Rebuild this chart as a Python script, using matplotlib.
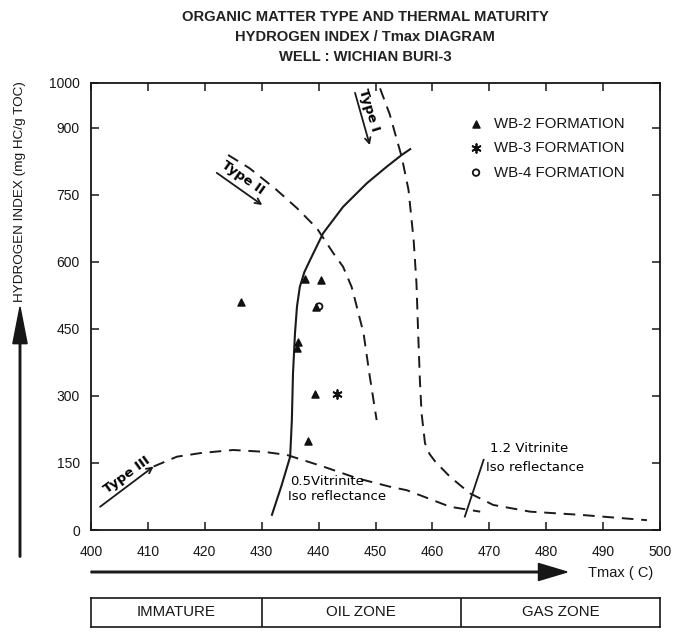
import matplotlib
matplotlib.use("Agg")
import matplotlib.pyplot as plt
from matplotlib.patches import FancyArrow

plt.rcParams['font.family'] = ['Liberation Sans', 'DejaVu Sans']

# ---------------- data ----------------
title_lines = ["ORGANIC MATTER TYPE AND THERMAL MATURITY",
               "HYDROGEN INDEX / Tmax DIAGRAM",
               "WELL : WICHIAN BURI-3"]

x_ticks = [400, 410, 420, 430, 440, 450, 460, 470, 480, 490, 500]
y_ticks = [0, 150, 300, 450, 600, 750, 900, 1000]

wb2_tmax = [426.4, 437.6, 440.5, 439.5, 436.3, 436.2, 439.4, 438.2]
wb2_hi = [510, 561, 559, 499, 421, 407, 304, 198]
wb3_tmax = [443.3]
wb3_hi = [304]
wb4_tmax = [440.1]
wb4_hi = [500]

type1_tmax = [450.8, 452.5, 453.6, 454.6, 455.8, 456.7, 457.2, 457.5, 457.8, 458.1,
              458.7, 459.5, 460.5, 463.1, 466.6, 470.7, 477.2, 485.9, 497.7]
type1_hi = [988, 930, 880, 835, 761, 649, 552, 440, 336, 261,
            194, 170, 153, 119, 82, 56, 41, 34, 22]

type2_tmax = [424.1, 427.9, 432.6, 436.2, 439.7, 442.6, 444.3, 445.8, 446.4, 447.9, 449.0, 450.2]
type2_hi = [839, 809, 761, 720, 675, 619, 589, 544, 515, 440, 343, 246]

type3_tmax = [401.6, 406.9, 411.0, 415.1, 419.2, 425.0, 430.3, 434.4, 440.8, 446.7,
              452.5, 455.5, 458.4, 463.1, 468.4]
type3_hi = [52, 112, 142, 164, 172, 179, 175, 168, 142, 116,
            97, 89, 75, 52, 41]

ro05_tmax = [431.8, 433.5, 435.0, 435.3, 435.5, 435.85, 436.2, 436.7, 437.5, 438.5, 440.8,
             444.3, 448.5, 452.0, 454.6, 456.1]
ro05_hi = [34, 100, 164, 246, 350, 440, 500, 544, 577, 604, 664,
           723, 776, 813, 839, 852]

ro12_tmax = [465.7, 469.0]
ro12_hi = [30, 157]

zone_edges = [400, 430, 465, 500]
zone_names = ["IMMATURE", "OIL ZONE", "GAS ZONE"]

# ---------------- figure ----------------
W, H = 679, 632
fig = plt.figure(figsize=(W / 100, H / 100), dpi=100)
fig.patch.set_facecolor('white')

def fx(px):
    return px / W

def fy(py):
    return 1 - py / H

ink = '#161616'

ax = fig.add_axes([fx(91), fy(530), fx(660) - fx(91), fy(83) - fy(530)])
ax.set_xlim(400, 500)
ax.set_ylim(0, 1000)
ax.set_xticks(x_ticks)
ax.set_yticks(y_ticks)
ax.tick_params(direction='in', length=6, width=1.1, top=True, right=True,
               labelsize=10, colors=ink)
ax.tick_params(axis='x', pad=11)
ax.tick_params(axis='y', pad=8)
for s in ax.spines.values():
    s.set_linewidth(1.3)
    s.set_color(ink)

dash = (0, (6, 4))
lc = '#1a1a1a'
ax.plot(type1_tmax, type1_hi, color=lc, lw=1.4, ls=dash)
ax.plot(type2_tmax, type2_hi, color=lc, lw=1.4, ls=dash)
ax.plot(type3_tmax[2:], type3_hi[2:], color=lc, lw=1.4, ls=dash)
ax.annotate('', xy=(type3_tmax[2], type3_hi[2]), xytext=(type3_tmax[0], type3_hi[0]),
            arrowprops=dict(arrowstyle='->', color=lc, lw=1.3, shrinkA=0, shrinkB=0))
ax.plot(ro05_tmax, ro05_hi, color=lc, lw=1.5)
ax.plot(ro12_tmax, ro12_hi, color=lc, lw=1.3)

ax.scatter(wb2_tmax, wb2_hi, marker='^', s=26, color='#111111', zorder=5,
           label='WB-2 FORMATION')
ax.scatter(wb3_tmax, wb3_hi, marker=(6, 2, 0), s=40, color='#111111', linewidths=1.3,
           zorder=5, label='WB-3 FORMATION')
ax.scatter(wb4_tmax, wb4_hi, marker='o', s=22, facecolors='none', edgecolors='#111111',
           linewidths=1.3, zorder=5, label='WB-4 FORMATION')

ax.legend(loc='upper left', bbox_to_anchor=(0.653, 0.937), frameon=False,
          fontsize=10.8, handletextpad=0.7, labelspacing=0.68,
          handlelength=1.0, borderaxespad=0, labelcolor=ink)

hand = ['DejaVu Sans']
lab_fs = 9.5
ax.text(448.9, 940, 'Type I', rotation=-72.6, ha='center', va='center',
        fontsize=lab_fs, family=hand, fontweight='bold', rotation_mode='anchor')
ax.annotate('', xy=(449.0, 861), xytext=(446.4, 978),
            arrowprops=dict(arrowstyle='->', color=lc, lw=1.3, shrinkA=0, shrinkB=0))
ax.text(426.7, 787, 'Type II', rotation=-35, ha='center', va='center',
        fontsize=lab_fs, family=hand, fontweight='bold', rotation_mode='anchor')
ax.annotate('', xy=(430.1, 727), xytext=(422.1, 799),
            arrowprops=dict(arrowstyle='->', color=lc, lw=1.3, shrinkA=0, shrinkB=0))
ax.text(406.3, 123, 'Type III', rotation=36, ha='center', va='center',
        fontsize=lab_fs, family=hand, fontweight='bold', rotation_mode='anchor')

ax.text(435.0, 108, '0.5Vitrinite', ha='left', va='center', fontsize=lab_fs, family=hand)
ax.text(434.6, 76, 'Iso reflectance', ha='left', va='center', fontsize=lab_fs, family=hand)
ax.text(470.1, 183, '1.2 Vitrinite', ha='left', va='center', fontsize=lab_fs, family=hand)
ax.text(469.5, 139, 'Iso reflectance', ha='left', va='center', fontsize=lab_fs, family=hand)

for t, py in zip(title_lines, [17, 37, 57]):
    fig.text(fx(365), fy(py), t, ha='center', va='center', fontsize=10.6,
             fontweight='bold', color='#222222')

fig.text(fx(20), fy(192), 'HYDROGEN INDEX (mg HC/g TOC)', rotation=90,
         ha='center', va='center', fontsize=9.7, color=ink)
fig.add_artist(FancyArrow(fx(20), fy(557), 0, fy(307) - fy(557), width=0.0022,
                          head_width=0.021, head_length=0.058, length_includes_head=True,
                          color=ink, transform=fig.transFigure))

fig.add_artist(FancyArrow(fx(91), fy(572), fx(567) - fx(91), 0, width=0.0025,
                          head_width=0.027, head_length=0.042, length_includes_head=True,
                          color=ink, transform=fig.transFigure))
fig.text(fx(588), fy(573), 'Tmax ( C)', ha='left', va='center', fontsize=10.5,
         color=ink)

zax = fig.add_axes([fx(91), fy(627), fx(660) - fx(91), fy(598) - fy(627)])
zax.set_xlim(400, 500)
zax.set_ylim(0, 1)
zax.set_xticks([])
zax.set_yticks([])
for s in zax.spines.values():
    s.set_linewidth(1.2)
    s.set_color(ink)
for e in zone_edges[1:-1]:
    zax.axvline(e, color=ink, lw=1.2)
for a, b, name in zip(zone_edges[:-1], zone_edges[1:], zone_names):
    zax.text((a + b) / 2, 0.5, name, ha='center', va='center', fontsize=10.8,
             color=ink)

fig.savefig('out.png', dpi=100)
